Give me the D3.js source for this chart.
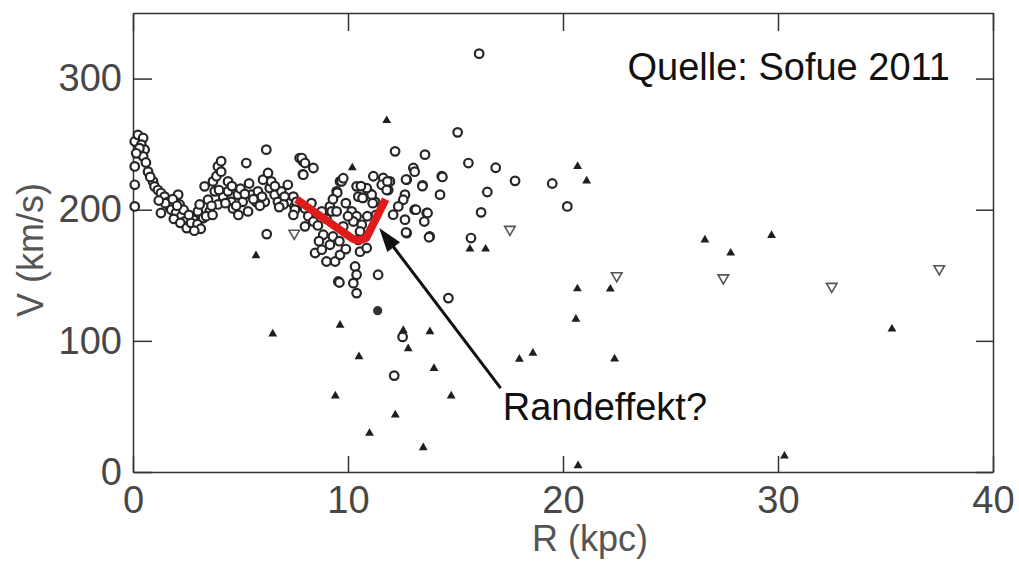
<!DOCTYPE html>
<html>
<head>
<meta charset="utf-8">
<script src="https://cdn.jsdelivr.net/npm/d3@7"></script>
<style>
  body{margin:0;background:#fff;}
  .axis path, .axis line{stroke:#333;stroke-width:1.5;}
  .axis text{font-family:'Liberation Sans',Arial,sans-serif;font-size:38px;fill:#474747;}
  .title{font-family:'Liberation Sans',Arial,sans-serif;font-size:36px;fill:#555;}
  .note{font-family:'Liberation Sans',Arial,sans-serif;font-size:38px;fill:#111;}
</style>
</head>
<body>
<div class="canvas" id="canvas"></div>
<script>
// tick labels
var xTicks = [0,10,20,30,40];
var yTicks = [0,100,200,300];

// open circles [R (kpc), V (km/s)]
var openCircles = [
  [0.08,252],[0.23,257],[0.47,254.7],[0.39,249.6],[0.54,245.8],[0.47,240.7],[0.08,233],[0.7,229],
  [0.08,219],[0.93,221.6],[1.0,217.8],[1.16,215],[1.3,212.7],[1.47,210],[0.08,202.5],[1.63,206],
  [1.7,202.5],[1.3,197.5],[1.78,200],[2.0,197.5],[2.1,211.5],[2.17,204],[2.25,195],[2.4,191],
  [2.64,188.5],[2.8,192.4],[2.94,187.3],[3.02,198.7],[3.1,204],[3.26,193.6],[3.33,217.8],[3.49,207.6],
  [3.57,198.7],[3.72,221.6],[3.8,214],[3.88,225.5],[3.95,204],[3.95,233],[4.1,237],[4.1,229],
  [4.19,210],[4.42,221.6],[4.42,214],[4.57,206],[4.65,201],[4.88,211.5],[5.1,206],[5.27,235.6],
  [5.35,198.7],[5.5,211.5],[5.73,206],[5.81,214],[6.05,222.9],[6.13,206],[6.2,245.8],[6.28,228],
  [6.36,216.5],[6.43,221.6],[6.59,211.5],[6.74,206],[6.9,214],[7.05,210],[7.2,219],[7.36,206],
  [7.52,202.5],[7.75,239.4],[7.9,237],[7.9,227],[6.22,181.4],
  [1.9,193],[2.2,190],[2.5,186],[2.7,190],[3.0,189],[3.15,185.5],[2.85,184],[1.5,205],[1.85,208],
  [2.35,200],[2.6,196],[3.4,195],[3.65,203],[4.0,215],[4.3,205],[4.8,203],[5.0,216],[5.2,212],
  [5.6,208],[6.0,210],[6.6,218],[7.0,204],[0.3,247],[0.15,243],[0.6,236],[0.8,225],
  [4.6,218],[5.4,220],[5.9,203],[6.8,202],[3.7,196],[4.9,196],[2.05,203],[1.2,207],
  [7.85,239.4],[8.0,235.6],[8.39,231.8],[7.92,226.7],[9.63,221.6],[9.47,214],[10.4,217.8],[10.48,210],
  [10.7,209],[11.18,225.5],[11.64,224.2],[11.95,221.6],[11.57,219],[11.87,215],[11.0,212.7],[11.26,206],
  [12.19,244.5],[13.58,242],[13.04,231.8],[13.1,229],[12.73,222.9],[13.47,218.6],[14.36,225.5],[14.28,211.5],
  [12.65,211.5],[12.57,207.6],[12.34,202.5],[12.1,196.2],[12.65,192.4],[13.1,200],[13.66,197.5],[13.55,191],
  [12.73,182.2],[13.8,179.6],[7.46,210],[7.6,206],[7.53,200],[7.46,196],[8.0,201],[8.15,195],
  [8.0,187.3],[8.39,191],[8.78,198.7],[9.16,202.5],[9.24,198.7],[9.47,198.7],[8.85,180.9],[9.16,173.3],
  [9.3,179.6],[9.78,187.3],[10.17,198.7],[10.4,195],[10.25,191],[10.64,188.5],[10.56,183.4],[8.47,167],
  [8.78,169.5],[9.0,160.5],[9.4,160.5],[9.63,165.6],[9.55,145.3],[10.33,156.7],[10.4,150.4],[10.25,144],
  [10.4,136.4],[11.4,150.4],[10.56,168],[10.87,170.8],[10.48,177],[14.67,132.6],[12.15,73.5],[12.54,103],
  [15.1,259],[15.6,235.6],[16.87,232],[17.77,222],[19.5,220],[16.48,213.5],[20.2,202.5],[16.19,198],
  [15.72,178.4],[14.39,225],[12.7,223],[13.46,218],[13.16,200],[13.7,197.5],[12.7,182.7],[13.77,179],
  [16.1,319],[9.6,144.5],[11.83,221.6],[11.8,215],[11.1,211.5],[11.15,205],[10.68,209],[9.7,221.6],
  [9.5,213],[9.78,224],[10.87,216.5],[10.6,218],
  [8.3,205],[8.6,188],[9.0,193],[9.3,208],[9.9,205],[10.0,195],[9.6,176],[9.9,170],[8.65,176],
  [10.9,195],[11.3,196]
];

// filled triangles
var filledTriangles = [
  [9.63,112],[12.57,108],[13.81,107],[12.8,94],[10.51,88],[14.0,79],[9.41,58],[14.8,58],
  [12.2,43.5],[11.0,29.5],[13.5,18.5],[17.97,86],[18.6,90.6],[20.6,116.6],[22.4,86.3],[20.7,4.8],
  [11.8,268],[10.2,232],[20.68,233],[21.1,222],[15.67,170],[16.4,170],[20.67,139.7],[22.2,139.5],
  [26.6,177],[27.8,167],[29.7,180.4],[35.3,109],[30.3,12.2],[6.5,105.3],[5.72,165]
];

// open downward triangles
var openTriangles = [[7.5,182],[17.53,185],[22.5,149.6],[27.46,148],[32.5,141.5],[37.5,155]];

// filled circles
var filledCircles = [[11.38,123]];

// red highlight line
var redLine = [[7.6,208],[10.2,178],[10.5,176.5],[10.85,178.5],[11.75,208]];

// arrow: from label to tip
var arrowLine = [[17.1,64],[11.45,186]];

var m = {t:13,r:26,b:89,l:133};
var outerWidth = 1019,
    outerHeight = 561;
var w = outerWidth - m.l - m.r,
    h = outerHeight - m.t - m.b;

var svg = d3.select('.canvas')
    .append('svg')
    .attr('width',outerWidth)
    .attr('height',outerHeight)
    .style('display','block');

var plot = svg.append('g')
    .attr('transform','translate(' + m.l + ',' + m.t + ')');

var scaleX = d3.scaleLinear().domain([0,40]).range([0,w]);
var scaleY = d3.scaleLinear().domain([0,350]).range([h,0]);

//axes, ticks point inward on all four sides
var axisX = d3.axisBottom().scale(scaleX).tickValues(xTicks)
    .tickSizeInner(-16).tickSizeOuter(0).tickPadding(14);
var axisXTop = d3.axisTop().scale(scaleX).tickValues(xTicks)
    .tickSizeInner(-18).tickSizeOuter(0).tickFormat(function(){return '';});
var axisY = d3.axisLeft().scale(scaleY).tickValues(yTicks)
    .tickSizeInner(-19).tickSizeOuter(0).tickPadding(11);
var axisYRight = d3.axisRight().scale(scaleY).tickValues(yTicks)
    .tickSizeInner(-17).tickSizeOuter(0).tickFormat(function(){return '';});

plot.append('g').attr('class','axis axis-x')
    .attr('transform','translate(0,' + h + ')').call(axisX);
plot.append('g').attr('class','axis axis-x-top').call(axisXTop);
plot.append('g').attr('class','axis axis-y').call(axisY);
plot.append('g').attr('class','axis axis-y-right')
    .attr('transform','translate(' + w + ',0)').call(axisYRight);

//axis titles
svg.append('text').attr('class','title')
    .attr('x',590).attr('y',551)
    .attr('text-anchor','middle')
    .text('R (kpc)');
svg.append('text').attr('class','title')
    .attr('transform','translate(43,250) rotate(-90)')
    .attr('text-anchor','middle')
    .text('V (km/s)');

//points
plot.selectAll('.pt-circle')
    .data(openCircles)
    .enter()
    .append('circle')
    .attr('class','pt-circle')
    .attr('cx',function(d){return scaleX(d[0]);})
    .attr('cy',function(d){return scaleY(d[1]);})
    .attr('r',4.3)
    .style('fill','#fff')
    .style('stroke','#262626')
    .style('stroke-width',2.2);

plot.selectAll('.pt-dot')
    .data(filledCircles)
    .enter()
    .append('circle')
    .attr('class','pt-dot')
    .attr('cx',function(d){return scaleX(d[0]);})
    .attr('cy',function(d){return scaleY(d[1]);})
    .attr('r',4.6)
    .style('fill','#333');

var triUp = d3.symbol().type(d3.symbolTriangle).size(34);
plot.selectAll('.pt-tri')
    .data(filledTriangles)
    .enter()
    .append('path')
    .attr('class','pt-tri')
    .attr('d',triUp)
    .attr('transform',function(d){return 'translate(' + scaleX(d[0]) + ',' + scaleY(d[1]) + ')';})
    .style('fill','#1e1e1e');

var triDown = d3.symbol().type(d3.symbolTriangle).size(48);
plot.selectAll('.pt-tri-open')
    .data(openTriangles)
    .enter()
    .append('path')
    .attr('class','pt-tri-open')
    .attr('d',triDown)
    .attr('transform',function(d){return 'translate(' + scaleX(d[0]) + ',' + scaleY(d[1]) + ') rotate(180)';})
    .style('fill','#fff')
    .style('stroke','#555')
    .style('stroke-width',1.6);

//red highlight
var line = d3.line()
    .x(function(d){return scaleX(d[0]);})
    .y(function(d){return scaleY(d[1]);});

plot.append('path')
    .datum(redLine)
    .attr('d',line)
    .style('fill','none')
    .style('stroke','#e01b1b')
    .style('stroke-width',8)
    .style('stroke-linejoin','round')
    .style('stroke-linecap','butt');

//arrow
var x0 = scaleX(arrowLine[0][0]), y0 = scaleY(arrowLine[0][1]),
    x1 = scaleX(arrowLine[1][0]), y1 = scaleY(arrowLine[1][1]);
var ang = Math.atan2(y1 - y0, x1 - x0);
var headLen = 24, headW = 8;
var bx = x1 - headLen * Math.cos(ang), by = y1 - headLen * Math.sin(ang);

plot.append('line')
    .attr('x1',x0).attr('y1',y0)
    .attr('x2',bx + 4 * Math.cos(ang)).attr('y2',by + 4 * Math.sin(ang))
    .style('stroke','#111')
    .style('stroke-width',3);

plot.append('path')
    .attr('d','M' + x1 + ',' + y1 +
        'L' + (bx - headW * Math.sin(ang)) + ',' + (by + headW * Math.cos(ang)) +
        'L' + (bx + headW * Math.sin(ang)) + ',' + (by - headW * Math.cos(ang)) + 'Z')
    .style('fill','#111');

//annotations
plot.append('text').attr('class','note')
    .attr('x',scaleX(38)).attr('y',scaleY(300) + 1)
    .attr('text-anchor','end')
    .text('Quelle: Sofue 2011');

plot.append('text').attr('class','note')
    .attr('x',scaleX(17.2)).attr('y',scaleY(40))
    .text('Randeffekt?');
</script>
</body>
</html>
